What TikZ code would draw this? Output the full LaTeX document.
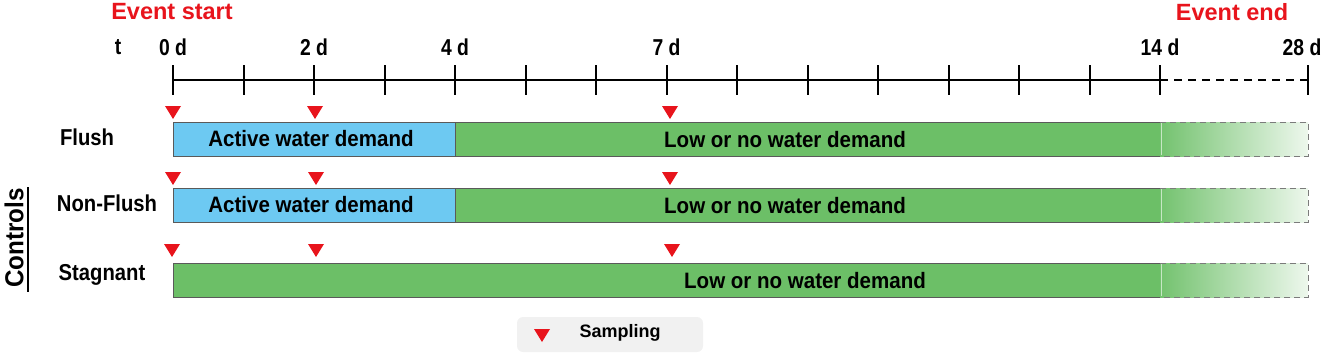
\documentclass[tikz,border=0pt]{standalone}
\usepackage{graphicx}
\usepackage{fontspec}
\setmainfont{Liberation Sans}
\usetikzlibrary{positioning}

\definecolor{evred}{HTML}{E8141C}
\definecolor{actblue}{HTML}{6DC9F2}
\definecolor{lowgreen}{HTML}{6CBF67}
\definecolor{barline}{HTML}{5A5A5A}
\definecolor{legfill}{HTML}{F1F1F1}

% narrow, tall lettering
\newcommand\narrowtxt[2]{\scalebox{#1}[1]{#2}}

\tikzset{
  axis/.style={line width=2pt},
  bar/.style={draw=barline,line width=0.6pt},
  fadebar/.style={draw=barline!80,line width=0.9pt,dash pattern=on 6pt off 4pt},
  ticklabel/.style={font=\fontsize{23}{25}\selectfont\bfseries},
  bartext/.style={font=\fontsize{22.3}{25}\selectfont\bfseries},
  rowlabel/.style={font=\fontsize{23}{25}\selectfont\bfseries},
  evlabel/.style={font=\fontsize{23.5}{25}\selectfont\bfseries,text=evred},
  sampling/.pic={\fill[evred] (-8,-13) -- (8,-13) -- (0,0) -- cycle;}
}

\begin{document}
\begin{tikzpicture}[x=1pt,y=-1pt,every node/.style={inner sep=0pt}]
  \useasboundingbox (0,0) rectangle (1325,356);

  % time axis
  \draw[axis] (173,80) -- (1160,80);
  \draw[axis,dash pattern=on 8pt off 6pt] (1160,80) -- (1308,80);
  \foreach \d in {0,...,14}
    \draw[axis] ({173+70.5*\d},65) -- ({173+70.5*\d},95);
  \draw[axis] (1308,65) -- (1308,95);

  \node[ticklabel] (t) at (118,47) {\narrowtxt{0.84}{t}};
  \foreach \d in {0,2,4,7,14}
    \node[ticklabel] (d\d) at ({173+70.5*\d},47) {\narrowtxt{0.84}{\d\ d}};
  \node[ticklabel] (d28) at (1302,47) {\narrowtxt{0.84}{28 d}};
  \node[evlabel] (evstart) at (172,12) {Event start};
  \node[evlabel] (evend) at (1232,12) {Event end};

  % bars
  \fill[actblue] (173,122) rectangle (455,156);
  \fill[lowgreen] (455,122) rectangle (1160,156);
  \draw[bar] (455,122) -- (173,122) -- (173,156) -- (455,156);
  \draw[bar] (455,122) -- (455,156);
  \draw[bar] (455,122) -- (1160,122) (455,156) -- (1160,156);

  \fill[actblue] (173,188) rectangle (455,222);
  \fill[lowgreen] (455,188) rectangle (1160,222);
  \draw[bar] (455,188) -- (173,188) -- (173,222) -- (455,222);
  \draw[bar] (455,188) -- (455,222);
  \draw[bar] (455,188) -- (1160,188) (455,222) -- (1160,222);

  \fill[lowgreen] (173,263) rectangle (1160,297);
  \draw[bar] (1160,263) -- (173,263) -- (173,297) -- (1160,297);

  % fading part 14 d - 28 d
  \foreach \top in {122,188,263} {
    \shade[left color=lowgreen!95!white,right color=lowgreen!12!white] (1160,\top) rectangle (1308,\top+34);
    \draw[fadebar] (1160,\top) -- (1308,\top) -- (1308,\top+34) -- (1160,\top+34);
    \draw[white,opacity=0.6,line width=0.8pt] (1161,\top+1) -- (1161,\top+33);
  }

  \node[bartext] (act1) at (311,139) {\narrowtxt{0.92}{Active water demand}};
  \node[bartext] (low1) at (785,140) {\narrowtxt{0.92}{Low or no water demand}};
  \node[bartext] (act2) at (311,205) {\narrowtxt{0.92}{Active water demand}};
  \node[bartext] (low2) at (785,206) {\narrowtxt{0.92}{Low or no water demand}};
  \node[bartext] (low3) at (805,281) {\narrowtxt{0.92}{Low or no water demand}};

  % sampling marks
  \foreach \x/\y in {173/119,315/119,670/119,173/185,316/185,670/185,172/257,316/257,672/257}
    \pic at (\x,\y) {sampling};

  % rows
  \node[rowlabel] (flush) at (87,137) {\narrowtxt{0.88}{Flush}};
  \node[rowlabel] (nonflush) at (107,203) {\narrowtxt{0.88}{Non-Flush}};
  \node[rowlabel] (stagnant) at (102,275) {\narrowtxt{0.88}{Stagnant}};
  \node[font=\fontsize{26}{28}\selectfont\bfseries,rotate=90] (controls) at (14,238) {\narrowtxt{0.93}{Controls}};
  \draw[line width=1.5pt] (28,187) -- (28,292);

  % legend
  \fill[legfill,rounded corners=6pt] (517,317) rectangle (703,352);
  \pic at (542,342) {sampling};
  \node[font=\fontsize{18}{20}\selectfont\bfseries] (samp) at (620,333) {Sampling};
\end{tikzpicture}
\end{document}
